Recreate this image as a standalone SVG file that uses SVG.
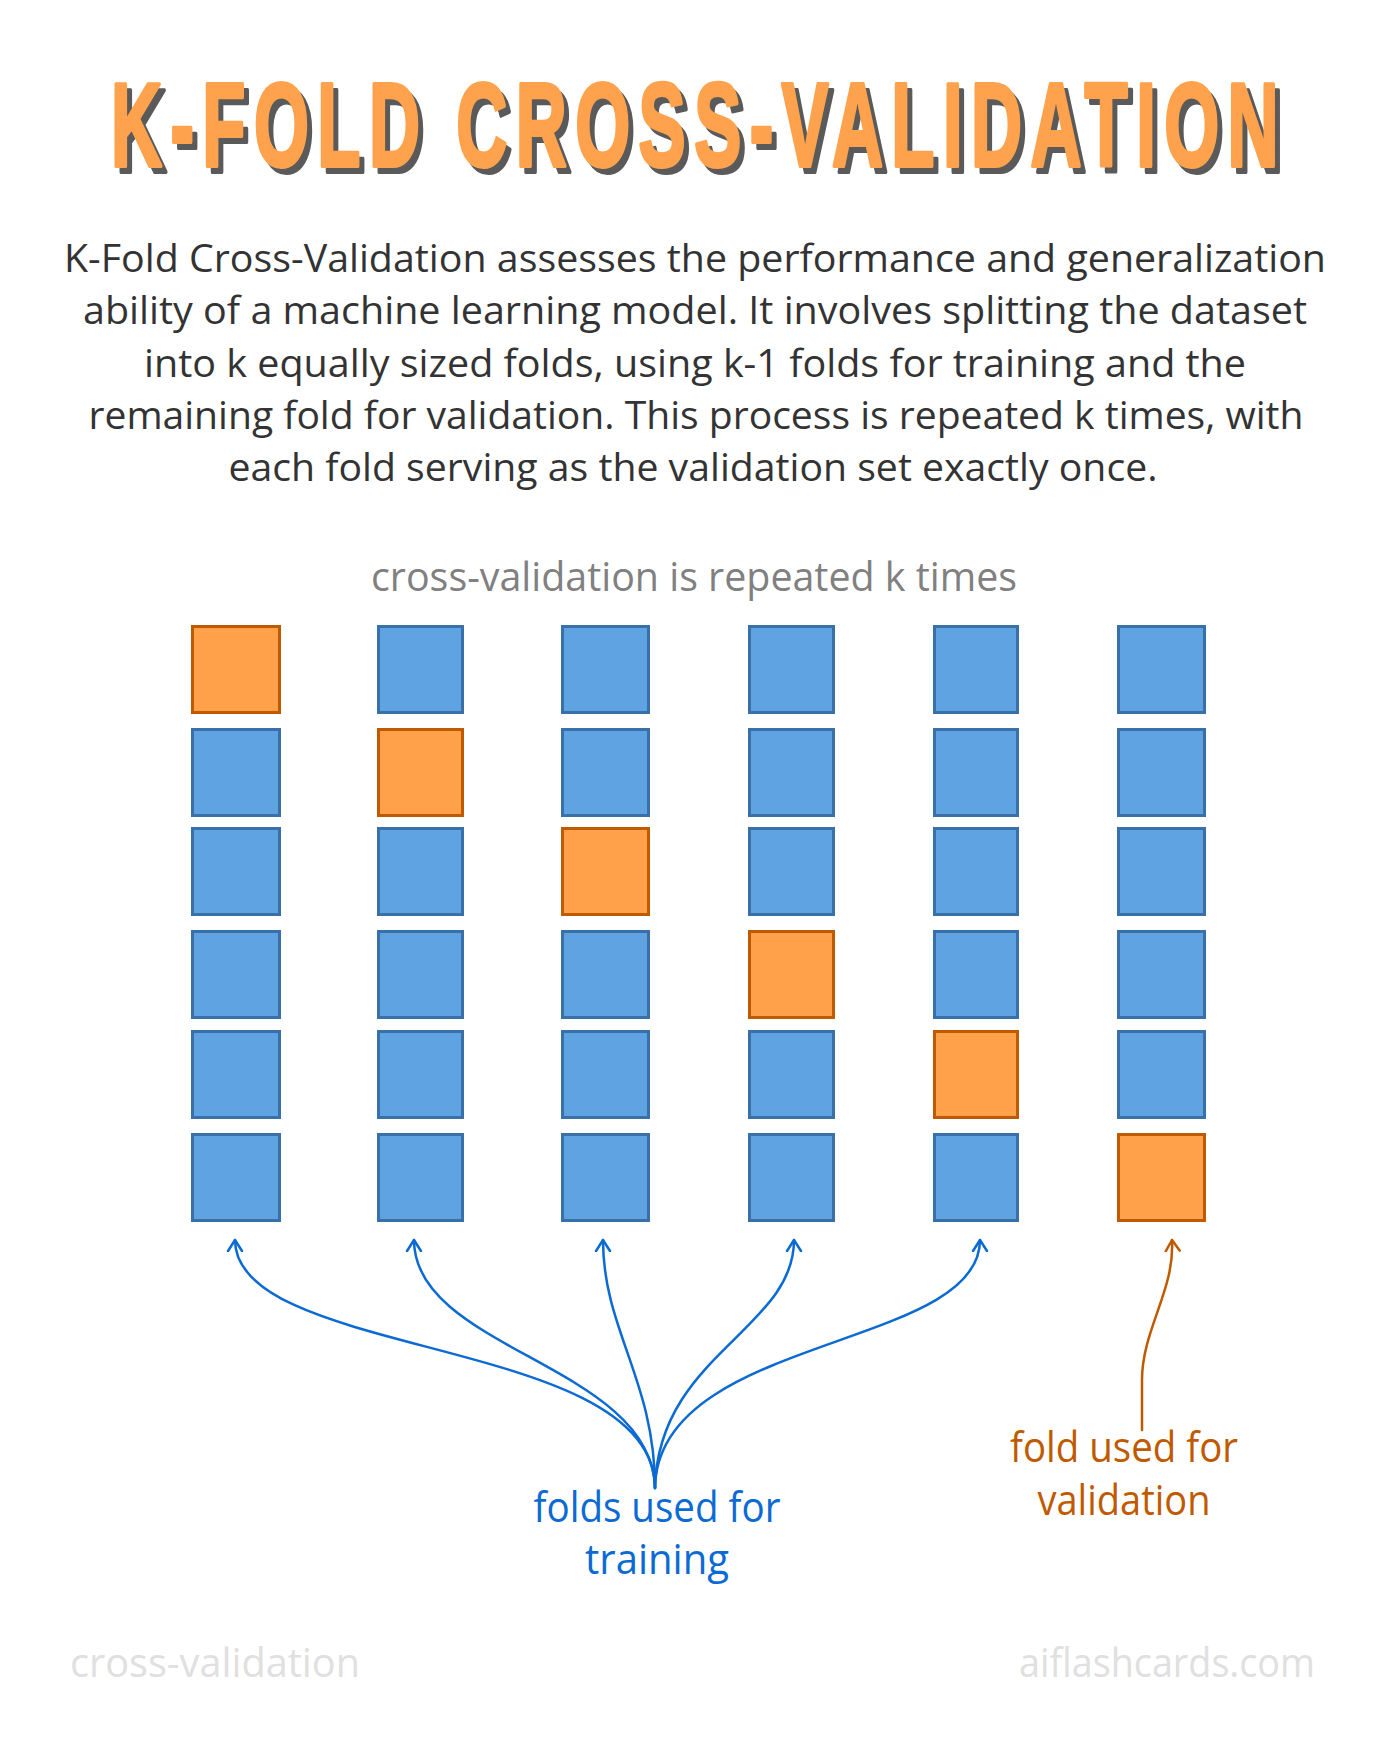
<svg xmlns="http://www.w3.org/2000/svg" width="1389" height="1737" viewBox="0 0 1389 1737">
  <style>
    .title { font-family: "Liberation Sans", sans-serif; font-weight: 700; font-size: 118px; letter-spacing: 14px; stroke-linejoin: round; stroke-width: 4px; }
    .body { font-family: "Open Sans", "Noto Sans", sans-serif; font-size: 38px; fill: #333333; text-anchor: middle; }
    .sub { font-family: "Open Sans", "Noto Sans", sans-serif; font-size: 40px; fill: #808080; text-anchor: middle; }
    .lbl { font-family: "Open Sans", "Noto Sans", sans-serif; font-size: 42px; text-anchor: middle; }
    .foot { font-family: "Open Sans", "Noto Sans", sans-serif; font-size: 40px; fill: #e0e0e0; }
    .tr { fill: #5fa3e3; stroke: #3a70a8; stroke-width: 3; }
    .va { fill: #ffa04b; stroke: #c05a00; stroke-width: 3; }
    .cb { fill: none; stroke: #0b6ad4; stroke-width: 2.5; stroke-linecap: round; }
    .co { fill: none; stroke: #c05a00; stroke-width: 2.5; stroke-linecap: round; }
  </style>
  <defs>
    <marker id="ab" markerUnits="userSpaceOnUse" markerWidth="20" markerHeight="20" refX="12" refY="8" orient="auto-start-reverse" viewBox="0 0 20 16">
      <path d="M1,1 L12,8 L1,15" fill="none" stroke="#0b6ad4" stroke-width="2.5" stroke-linecap="round" stroke-linejoin="round"/>
    </marker>
    <marker id="ao" markerUnits="userSpaceOnUse" markerWidth="20" markerHeight="20" refX="12" refY="8" orient="auto-start-reverse" viewBox="0 0 20 16">
      <path d="M1,1 L12,8 L1,15" fill="none" stroke="#c05a00" stroke-width="2.5" stroke-linecap="round" stroke-linejoin="round"/>
    </marker>
  </defs>
  <rect width="1389" height="1737" fill="#ffffff"/>

  <g id="title">
    <text class="title" x="116" y="172" fill="#5a5a5a" stroke="#5a5a5a" textLength="1176" lengthAdjust="spacingAndGlyphs">K-FOLD CROSS-VALIDATION</text>
    <text class="title" x="111" y="166" fill="#ffa24d" stroke="#ffa24d" textLength="1176" lengthAdjust="spacingAndGlyphs">K-FOLD CROSS-VALIDATION</text>
  </g>

  <g id="description">
    <text class="body" x="695" y="272" textLength="1262" lengthAdjust="spacingAndGlyphs">K-Fold Cross-Validation assesses the performance and generalization</text>
    <text class="body" x="695" y="324" textLength="1224" lengthAdjust="spacingAndGlyphs">ability of a machine learning model. It involves splitting the dataset</text>
    <text class="body" x="695" y="377" textLength="1102" lengthAdjust="spacingAndGlyphs">into k equally sized folds, using k-1 folds for training and the</text>
    <text class="body" x="696" y="429" textLength="1215" lengthAdjust="spacingAndGlyphs">remaining fold for validation. This process is repeated k times, with</text>
    <text class="body" x="693" y="481" textLength="929" lengthAdjust="spacingAndGlyphs">each fold serving as the validation set exactly once.</text>
  </g>

  <g id="subtitle">
    <text class="sub" x="694" y="591" textLength="646" lengthAdjust="spacingAndGlyphs">cross-validation is repeated k times</text>
  </g>

  <g id="fold-1">
    <rect class="va" x="192.5" y="626.5" width="87" height="86"/>
    <rect class="tr" x="192.5" y="729.5" width="87" height="86"/>
    <rect class="tr" x="192.5" y="828.5" width="87" height="86"/>
    <rect class="tr" x="192.5" y="931.5" width="87" height="86"/>
    <rect class="tr" x="192.5" y="1031.5" width="87" height="86"/>
    <rect class="tr" x="192.5" y="1134.5" width="87" height="86"/>
  </g>
  <g id="fold-2">
    <rect class="tr" x="378.5" y="626.5" width="84" height="86"/>
    <rect class="va" x="378.5" y="729.5" width="84" height="86"/>
    <rect class="tr" x="378.5" y="828.5" width="84" height="86"/>
    <rect class="tr" x="378.5" y="931.5" width="84" height="86"/>
    <rect class="tr" x="378.5" y="1031.5" width="84" height="86"/>
    <rect class="tr" x="378.5" y="1134.5" width="84" height="86"/>
  </g>
  <g id="fold-3">
    <rect class="tr" x="562.5" y="626.5" width="86" height="86"/>
    <rect class="tr" x="562.5" y="729.5" width="86" height="86"/>
    <rect class="va" x="562.5" y="828.5" width="86" height="86"/>
    <rect class="tr" x="562.5" y="931.5" width="86" height="86"/>
    <rect class="tr" x="562.5" y="1031.5" width="86" height="86"/>
    <rect class="tr" x="562.5" y="1134.5" width="86" height="86"/>
  </g>
  <g id="fold-4">
    <rect class="tr" x="749.5" y="626.5" width="84" height="86"/>
    <rect class="tr" x="749.5" y="729.5" width="84" height="86"/>
    <rect class="tr" x="749.5" y="828.5" width="84" height="86"/>
    <rect class="va" x="749.5" y="931.5" width="84" height="86"/>
    <rect class="tr" x="749.5" y="1031.5" width="84" height="86"/>
    <rect class="tr" x="749.5" y="1134.5" width="84" height="86"/>
  </g>
  <g id="fold-5">
    <rect class="tr" x="934.5" y="626.5" width="83" height="86"/>
    <rect class="tr" x="934.5" y="729.5" width="83" height="86"/>
    <rect class="tr" x="934.5" y="828.5" width="83" height="86"/>
    <rect class="tr" x="934.5" y="931.5" width="83" height="86"/>
    <rect class="va" x="934.5" y="1031.5" width="83" height="86"/>
    <rect class="tr" x="934.5" y="1134.5" width="83" height="86"/>
  </g>
  <g id="fold-6">
    <rect class="tr" x="1118.5" y="626.5" width="86" height="86"/>
    <rect class="tr" x="1118.5" y="729.5" width="86" height="86"/>
    <rect class="tr" x="1118.5" y="828.5" width="86" height="86"/>
    <rect class="tr" x="1118.5" y="931.5" width="86" height="86"/>
    <rect class="tr" x="1118.5" y="1031.5" width="86" height="86"/>
    <rect class="va" x="1118.5" y="1134.5" width="86" height="86"/>
  </g>

  <g id="connectors">
    <path class="cb" marker-start="url(#ab)" d="M235,1240 C235,1360 655,1335 655,1488"/>
    <path class="cb" marker-start="url(#ab)" d="M414,1240 C414,1350 652,1365 655,1488"/>
    <path class="cb" marker-start="url(#ab)" d="M603,1240 C603,1330 655,1380 655,1488"/>
    <path class="cb" marker-start="url(#ab)" d="M794,1240 C794,1330 658,1355 655,1488"/>
    <path class="cb" marker-start="url(#ab)" d="M980,1240 C980,1350 657,1335 655,1488"/>
    <path class="co" marker-start="url(#ao)" d="M1172,1240 C1175,1290 1142,1330 1142,1380 L1142,1430"/>
  </g>

  <g id="label-training">
    <text class="lbl" x="657" y="1522" fill="#0b6ad4" textLength="247" lengthAdjust="spacingAndGlyphs">folds used for</text>
    <text class="lbl" x="657" y="1574" fill="#0b6ad4" textLength="144" lengthAdjust="spacingAndGlyphs">training</text>
  </g>
  <g id="label-validation">
    <text class="lbl" x="1124" y="1462" fill="#c05a00" textLength="228" lengthAdjust="spacingAndGlyphs">fold used for</text>
    <text class="lbl" x="1124" y="1515" fill="#c05a00" textLength="173" lengthAdjust="spacingAndGlyphs">validation</text>
  </g>

  <g id="footer">
    <text class="foot" x="70" y="1677" textLength="290" lengthAdjust="spacingAndGlyphs">cross-validation</text>
    <text class="foot" x="1019" y="1677" textLength="296" lengthAdjust="spacingAndGlyphs">aiflashcards.com</text>
  </g>
</svg>
